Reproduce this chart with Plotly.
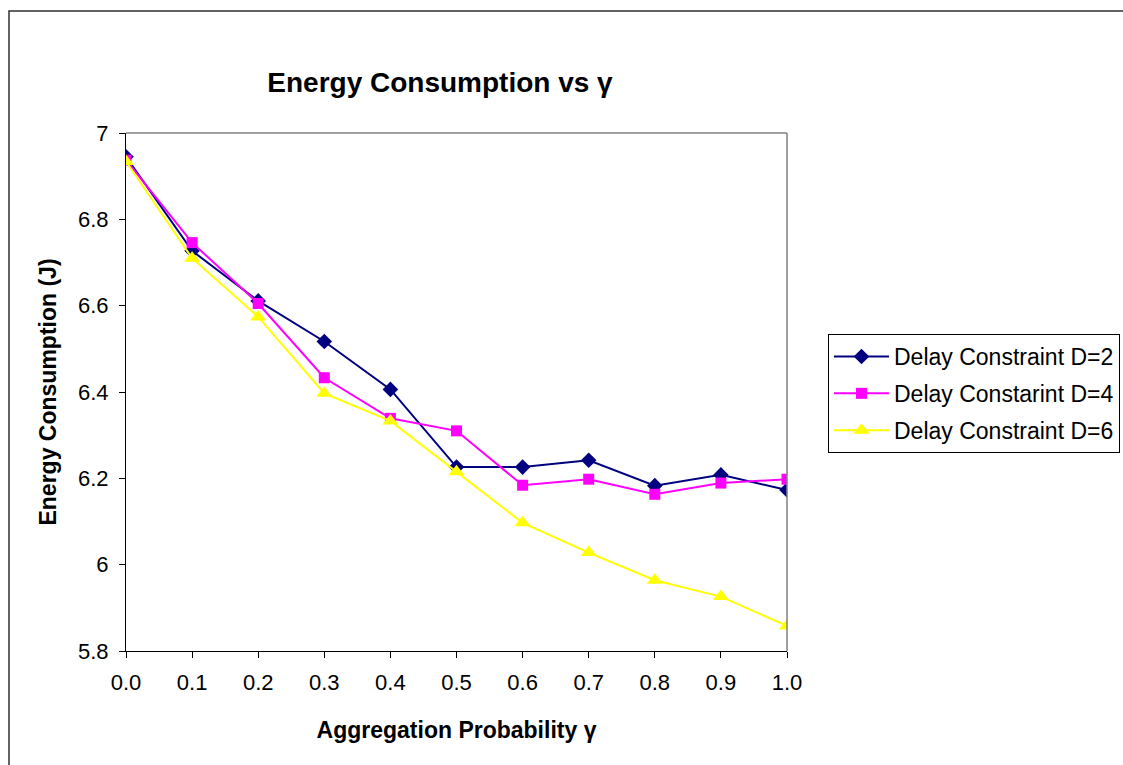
import plotly.graph_objects as go

gamma = [0.0, 0.1, 0.2, 0.3, 0.4, 0.5, 0.6, 0.7, 0.8, 0.9, 1.0]
x_labels = ["0.0", "0.1", "0.2", "0.3", "0.4", "0.5", "0.6", "0.7", "0.8", "0.9", "1.0"]
d2 = [6.945, 6.727, 6.611, 6.517, 6.406, 6.226, 6.226, 6.242, 6.183, 6.208, 6.173]
d4 = [6.937, 6.746, 6.605, 6.433, 6.339, 6.310, 6.184, 6.198, 6.163, 6.189, 6.198]
d6 = [6.934, 6.710, 6.574, 6.397, 6.333, 6.215, 6.097, 6.028, 5.964, 5.926, 5.858]
y_ticks = [5.8, 6.0, 6.2, 6.4, 6.6, 6.8, 7.0]
y_labels = ["5.8", "6", "6.2", "6.4", "6.6", "6.8", "7"]

names = ["Delay Constraint D=2", "Delay Constarint D=4", "Delay Constraint D=6"]
series = [d2, d4, d6]
colors = ["#000080", "#FF00FF", "#FFFF00"]
symbols = ["diamond", "square", "triangle-up"]
sizes = [12, 11, 14]

FONT = "Liberation Sans, Arial, sans-serif"

fig = go.Figure()
for n, s, c, sym, sz in zip(names, series, colors, symbols, sizes):
    fig.add_trace(go.Scatter(
        x=gamma, y=s, name=n, mode="lines+markers",
        line=dict(color=c, width=2),
        marker=dict(symbol=sym, size=sz, color=c),
        legendgroup=n,
    ))

fig.update_layout(
    width=1123, height=765,
    margin=dict(l=126, r=336, t=133, b=114, autoexpand=False),
    paper_bgcolor="white", plot_bgcolor="white",
    font=dict(family=FONT, color="black", size=22),
    title=dict(text="<b>Energy Consumption vs γ</b>", x=440 / 1123,
               xanchor="center", y=1 - 82 / 765, yanchor="middle",
               font=dict(family=FONT, size=28, color="black")),
    showlegend=True,
    legend=dict(x=(828 - 126) / 661, y=(651 - 334) / 518, xanchor="left", yanchor="top",
                bordercolor="black", borderwidth=1, bgcolor="white",
                font=dict(family=FONT, size=23, color="black"),
                tracegroupgap=4, itemwidth=55),
)

fig.update_xaxes(
    range=[0, 1], tickvals=gamma, ticktext=x_labels,
    showline=True, linecolor="black", linewidth=1,
    ticks="outside", ticklen=6, tickcolor="black",
    showgrid=False, zeroline=False, ticklabelstandoff=6,
    tickfont=dict(family=FONT, size=22),
    title=dict(text="<b>Aggregation Probability γ</b>", font=dict(family=FONT, size=23), standoff=27),
)
fig.update_yaxes(
    range=[5.8, 7.0], tickvals=y_ticks, ticktext=y_labels,
    showline=True, linecolor="black", linewidth=1,
    ticks="outside", ticklen=6, tickcolor="black",
    showgrid=False, zeroline=False, ticklabelstandoff=6,
    tickfont=dict(family=FONT, size=22),
    title=dict(text="<b>Energy Consumption (J)</b>", font=dict(family=FONT, size=23), standoff=14),
)

# plot-area border (top & right, gray) and chart-area border
fig.add_shape(type="line", xref="paper", yref="paper", x0=0, x1=1, y0=1, y1=1,
              line=dict(color="#808080", width=1.5))
fig.add_shape(type="line", xref="paper", yref="paper", x0=1, x1=1, y0=0, y1=1,
              line=dict(color="#808080", width=1.5))
fig.add_shape(type="rect", xref="paper", yref="paper",
              x0=(9 - 126) / 661, x1=2.0, y0=-1.0, y1=(651 - 11) / 518,
              line=dict(color="#303030", width=1.5), layer="below")

fig.write_html("out.html")
